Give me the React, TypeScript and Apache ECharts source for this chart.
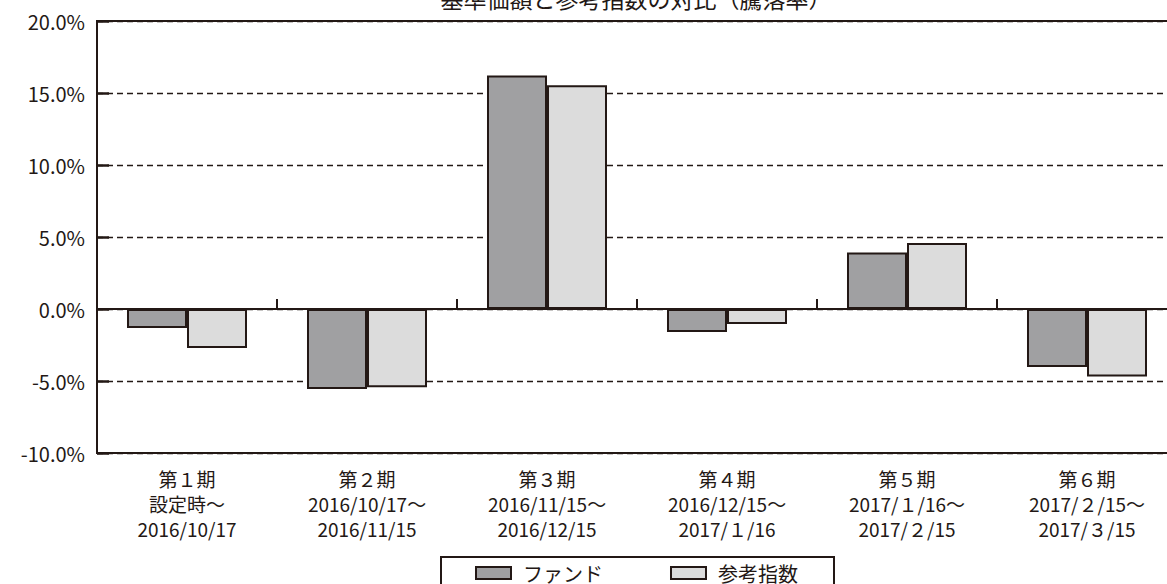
import React, { useEffect, useRef } from "react";
import * as echarts from "echarts";

const titleText = "基準価額と参考指数の対比（騰落率）";
const categories = [
  "第１期\n設定時～\n2016/10/17",
  "第２期\n2016/10/17～\n2016/11/15",
  "第３期\n2016/11/15～\n2016/12/15",
  "第４期\n2016/12/15～\n2017/１/16",
  "第５期\n2017/１/16～\n2017/２/15",
  "第６期\n2017/２/15～\n2017/３/15",
];
const seriesNames = ["ファンド", "参考指数"];
const fundValues = [-1.32, -5.56, 16.22, -1.6, 3.93, -4.03];
const indexValues = [-2.71, -5.44, 15.53, -1.04, 4.58, -4.68];
const yMin = -10;
const yMax = 20;
const yInterval = 5;

const INK = "#231815";
const FONT = "'Noto Sans CJK JP', 'Noto Sans', sans-serif";

export default function App() {
  const ref = useRef<HTMLDivElement>(null);
  useEffect(() => {
    if (!ref.current) return;
    const chart = echarts.init(ref.current, undefined, { renderer: "svg" });
    chart.setOption({
      animation: false,
      backgroundColor: "#ffffff",
      textStyle: { fontFamily: FONT, color: INK },
      grid: {
        left: 97,
        top: 21,
        width: 1080,
        height: 432,
        show: true,
        borderColor: INK,
        borderWidth: 2,
        backgroundColor: "transparent",
        containLabel: false,
      },
      graphic: [
        {
          type: "text",
          x: 636,
          y: 9,
          style: {
            text: titleText,
            fontFamily: FONT,
            fontSize: 23,
            fill: INK,
            align: "center",
            verticalAlign: "bottom",
          },
        },
      ],
      legend: {
        data: seriesNames,
        left: 441,
        top: 557,
        orient: "horizontal",
        padding: [6, 36, 30, 34],
        itemWidth: 35,
        itemHeight: 12,
        itemGap: 67,
        borderColor: INK,
        borderWidth: 2,
        borderRadius: 0,
        backgroundColor: "#ffffff",
        icon: "rect",
        itemStyle: { borderColor: INK, borderWidth: 2 },
        textStyle: {
          fontFamily: FONT,
          fontSize: 20,
          lineHeight: 20,
          color: INK,
          padding: [0, 0, 0, 7],
        },
      },
      xAxis: [
        {
          type: "category",
          data: categories,
          position: "bottom",
          axisLine: { show: false, onZero: false },
          axisTick: { show: false },
          axisLabel: {
            show: true,
            interval: 0,
            margin: 13,
            fontFamily: FONT,
            fontSize: 19,
            lineHeight: 25,
            color: INK,
            align: "center",
          },
          splitLine: { show: false },
        },
        {
          type: "category",
          data: categories,
          position: "bottom",
          axisLine: { show: true, onZero: true, lineStyle: { color: INK, width: 2 } },
          axisTick: {
            show: true,
            inside: true,
            length: 10,
            interval: 0,
            lineStyle: { color: INK, width: 2 },
          },
          axisLabel: { show: false },
          splitLine: { show: false },
        },
      ],
      yAxis: {
        type: "value",
        min: yMin,
        max: yMax,
        interval: yInterval,
        axisLine: { show: true, lineStyle: { color: INK, width: 2 } },
        axisTick: {
          show: true,
          inside: true,
          length: 12,
          lineStyle: { color: INK, width: 2.5 },
        },
        axisLabel: {
          margin: 12,
          fontFamily: FONT,
          fontSize: 20,
          color: INK,
          formatter: (v: number) => v.toFixed(1) + "%",
        },
        splitLine: {
          show: true,
          lineStyle: { color: INK, width: 1.3, type: [6, 4] },
        },
      },
      series: [
        {
          name: seriesNames[0],
          type: "bar",
          xAxisIndex: 0,
          data: fundValues,
          barCategoryGap: "33.333%",
          barGap: "0%",
          itemStyle: { color: "#a0a0a2", borderColor: INK, borderWidth: 2 },
        },
        {
          name: seriesNames[1],
          type: "bar",
          xAxisIndex: 0,
          data: indexValues,
          barCategoryGap: "33.333%",
          barGap: "0%",
          itemStyle: { color: "#dcdcdc", borderColor: INK, borderWidth: 2 },
        },
      ],
    });
    return () => chart.dispose();
  }, []);
  return (
    <div
      style={{
        position: "fixed",
        left: 0,
        top: 0,
        width: 1167,
        height: 584,
        overflow: "hidden",
        background: "#ffffff",
      }}
    >
      <div ref={ref} style={{ width: 1190, height: 584 }} />
    </div>
  );
}
